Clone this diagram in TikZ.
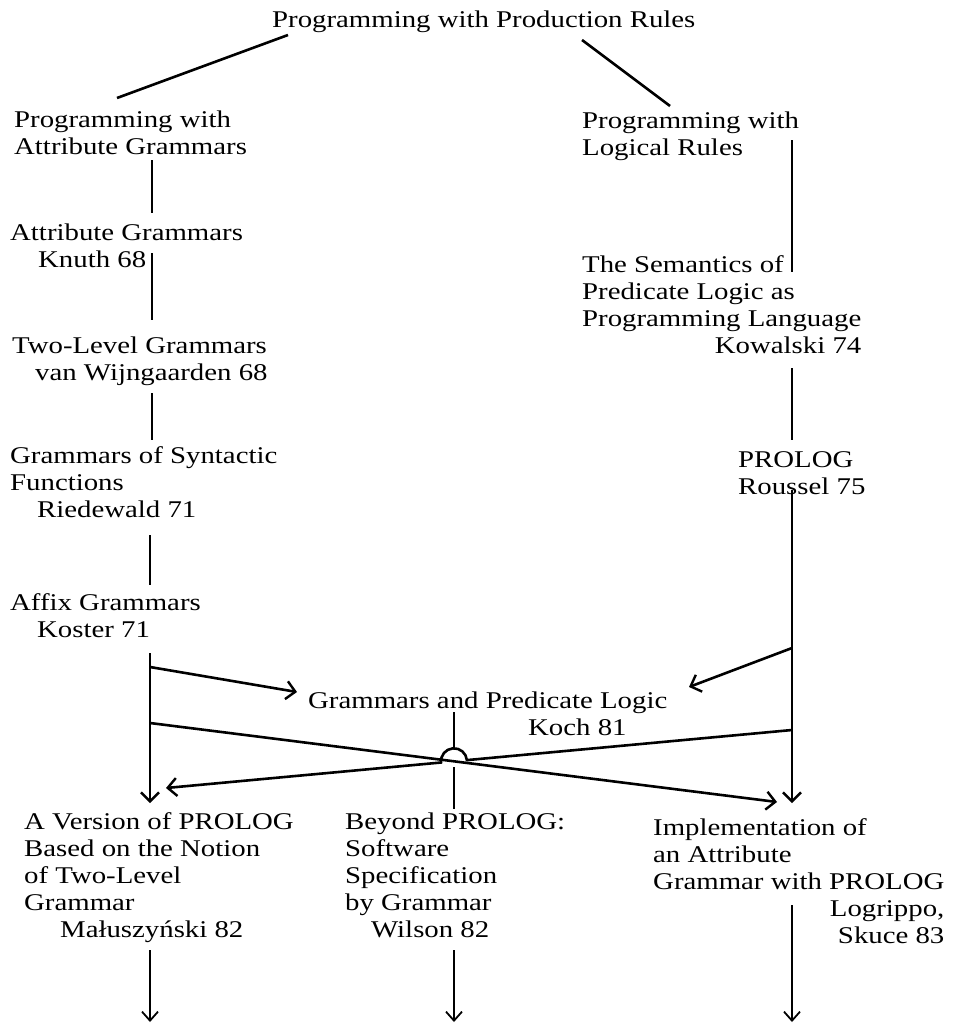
\documentclass[tikz,border=0pt]{standalone}
\usepackage{fontspec}
\setmainfont[FakeStretch=1.2]{Liberation Serif}
\usetikzlibrary{arrows.meta}
% multi-line label: left-aligned rows, first baseline is the node baseline
\newcommand\textblock[1]{\vtop{\baselineskip=27pt\halign{##\hfil\cr#1\crcr}}}
\begin{document}
\begin{tikzpicture}[x=1pt,y=-1pt,
  lbl/.style={anchor=base west, inner sep=0pt, font=\fontsize{24}{27}\selectfont},
  link/.style={line width=2.6pt},
  arr/.style={link, -{Straight Barb[length=9pt,width=18pt,line width=2.4pt]}},
  thinarr/.style={line width=1.8pt, -{Straight Barb[length=9pt,width=16pt,line width=1.8pt]}}]
\useasboundingbox[fill=white] (0,0) rectangle (966,1031);

% ---- labels ----
\node[lbl] (prod) at (272,27) {Programming with Production Rules};
\node[lbl] (pattr) at (14,127) {\textblock{Programming with\cr Attribute Grammars}};
\node[lbl] (plog) at (582,128) {\textblock{Programming with\cr Logical Rules}};
\node[lbl] (knuth) at (10,240) {\textblock{Attribute Grammars\cr \hspace*{28pt}Knuth 68}};
\node[lbl] (wijn) at (12,353) {\textblock{Two-Level Grammars\cr \hspace*{23pt}van Wijngaarden 68}};
\node[lbl] (ried) at (10,463) {\textblock{Grammars of Syntactic\cr Functions\cr \hspace*{27pt}Riedewald 71}};
\node[lbl] (koster) at (10,610) {\textblock{Affix Grammars\cr \hspace*{27pt}Koster 71}};
\node[lbl] (kowal) at (582,272) {\textblock{The Semantics of\cr Predicate Logic as\cr Programming Language\cr \hfill Kowalski 74}};
\node[lbl] (rouss) at (738,467) {\textblock{PROLOG\cr Roussel 75}};
\node[lbl] (koch) at (308,708) {\textblock{Grammars and Predicate Logic\cr \hspace*{220pt}Koch 81}};
\node[lbl] (malu) at (24,829) {\textblock{A Version of PROLOG\cr Based on the Notion\cr of Two-Level\cr Grammar\cr \hspace*{36pt}Małuszyński 82}};
\node[lbl] (wilson) at (345,829) {\textblock{Beyond PROLOG:\cr Software\cr Specification\cr by Grammar\cr \hspace*{26pt}Wilson 82}};
\node[lbl] (logri) at (653,835) {\textblock{Implementation of\cr an Attribute\cr Grammar with PROLOG\cr \hfill Logrippo,\cr \hfill Skuce 83}};

% ---- connector end points ----
\coordinate (pA1) at (288,35);  \coordinate (pA2) at (117,98);
\coordinate (pB1) at (582,40);  \coordinate (pB2) at (670,106);
\coordinate (l1a) at (152,160); \coordinate (l1b) at (152,213);
\coordinate (l2a) at (152,253); \coordinate (l2b) at (152,320);
\coordinate (l3a) at (152,393); \coordinate (l3b) at (152,440);
\coordinate (l4a) at (150,535); \coordinate (l4b) at (150,585);
\coordinate (l5a) at (150,653); \coordinate (l5b) at (150,803);
\coordinate (lfork1) at (150,667); \coordinate (kochL) at (297,692);
\coordinate (lfork2) at (150,723); \coordinate (logriT) at (777,802);
\coordinate (r1a) at (792,140); \coordinate (r1b) at (792,272);
\coordinate (r2a) at (792,368); \coordinate (r2b) at (792,440);
\coordinate (r3a) at (792,490); \coordinate (r3b) at (792,803);
\coordinate (rfork1) at (792,648); \coordinate (kochR) at (689,687);
\coordinate (rfork2) at (792,730); \coordinate (maluT) at (166,788);
\coordinate (hopR) at (466.9,760.1);
\coordinate (m1a) at (454,712); \coordinate (m1b) at (454,748.3);
\coordinate (m2a) at (454,767); \coordinate (m2b) at (454,809);
\coordinate (b1a) at (150,950); \coordinate (b1b) at (150,1022);
\coordinate (b2a) at (454,950); \coordinate (b2b) at (454,1022);
\coordinate (b3a) at (792,905); \coordinate (b3b) at (792,1022);

% ---- connectors ----
\draw[link] (pA1) -- (pA2);
\draw[link] (pB1) -- (pB2);
\draw[link] (l1a) -- (l1b);
\draw[link] (l2a) -- (l2b);
\draw[link] (l3a) -- (l3b);
\draw[link] (l4a) -- (l4b);
\draw[arr] (l5a) -- (l5b);
\draw[arr] (lfork1) -- (kochL);
\draw[arr] (lfork2) -- (logriT);
\draw[link] (r1a) -- (r1b);
\draw[link] (r2a) -- (r2b);
\draw[arr] (r3a) -- (r3b);
\draw[arr] (rfork1) -- (kochR);
\draw[arr] (rfork2) -- (hopR) arc[start angle=5.3, end angle=185.3, radius=13pt] -- (maluT);
\draw[link] (m1a) -- (m1b);
\draw[link] (m2a) -- (m2b);
\draw[thinarr] (b1a) -- (b1b);
\draw[thinarr] (b2a) -- (b2b);
\draw[thinarr] (b3a) -- (b3b);
\end{tikzpicture}
\end{document}
